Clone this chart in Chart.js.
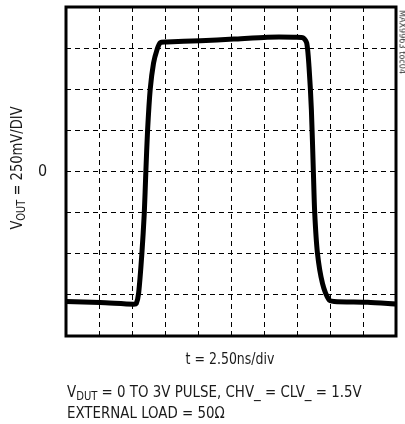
<!DOCTYPE html>
<html>
<head>
<meta charset="utf-8">
<script src="https://cdn.jsdelivr.net/npm/chart.js@4"></script>
<style>
  html, body { margin: 0; padding: 0; background: #fff; }
  #wrap { position: relative; width: 405px; height: 424px; }
  #scope { position: absolute; left: 0; top: 0; }
  .txt {
    position: absolute; color: #1a1a1a; white-space: nowrap;
    font-family: "Liberation Sans Narrow", "Arial Narrow", "DejaVu Sans Condensed", sans-serif;
    font-size: 16px; line-height: 1;
  }
  .txt sub { font-size: 12px; vertical-align: -3px; }
  #ytitle { left: 18px; top: 168px; transform: translate(-50%, -50%) rotate(-90deg) scaleX(0.91); }
  #zero { left: 38px; top: 163px; }
  #xtitle { left: 230px; top: 351px; transform: translateX(-50%) scaleX(0.87); }
  #cap1 { left: 67px; top: 384px; transform-origin: 0 0; transform: scaleX(0.93); }
  #cap2 { left: 67px; top: 405px; transform-origin: 0 0; transform: scaleX(0.93); }
  #tag { left: 402px; top: 10px; font-size: 9px; transform-origin: 0 0; transform: rotate(90deg) translateY(-50%); color: #333; }
</style>
</head>
<body>
<div id="wrap">
  <canvas id="scope" width="405" height="424"></canvas>
  <div class="txt" id="ytitle">V<sub>OUT</sub> = 250mV/DIV</div>
  <div class="txt" id="zero">0</div>
  <div class="txt" id="xtitle">t = 2.50ns/div</div>
  <div class="txt" id="cap1">V<sub>DUT</sub> = 0 TO 3V PULSE, CHV_ = CLV_ = 1.5V</div>
  <div class="txt" id="cap2">EXTERNAL LOAD = 50&Omega;</div>
  <div class="txt" id="tag">MAX9963 toc04</div>
</div>
<script>
/* pulse response, time in ns, output in mV */
const timeNs = [0, 2.58, 5.12, 5.32, 5.5, 5.75, 5.93, 6.05, 6.18, 6.38, 6.63, 6.89, 7.14, 7.65,
                10.18, 12.71, 15.25, 17.27, 17.98, 18.24, 18.41, 18.59, 18.74, 18.84, 19.05,
                19.43, 19.93, 20.31, 22.85, 25];
const voutMv = [-791, -797, -807, -803, -741, -497, -254, 1, 250, 500, 658, 739, 783, 787,
                795, 805, 816, 816, 812, 779, 637, 374, 0, -248, -497,
                -680, -781, -790, -795, -805];
const xRange = [0, 25];       // 10 div x 2.5ns
const yRange = [-1000, 1000]; // 8 div x 250mV
const xStep = 2.5;
const yStep = 250;

const framePlugin = {
    id: 'frame',
    afterDraw(chart) {
        const { ctx, chartArea: a } = chart;
        ctx.save();
        ctx.strokeStyle = '#000';
        ctx.lineWidth = 3;
        ctx.strokeRect(a.left, a.top, a.right - a.left, a.bottom - a.top);
        ctx.restore();
    }
};

const ctx = document.getElementById('scope').getContext('2d');
new Chart(ctx, {
    type: 'line',
    data: {
        datasets: [{
            data: timeNs.map((t, i) => ({ x: t, y: voutMv[i] })),
            borderColor: '#000',
            borderWidth: 5,
            pointRadius: 0,
            tension: 0.25,
            borderJoinStyle: 'round',
            borderCapStyle: 'round',
            fill: false
        }]
    },
    options: {
        responsive: false,
        animation: false,
        layout: { padding: { left: 66, top: 7, right: 9, bottom: 88 } },
        plugins: { legend: { display: false }, tooltip: { enabled: false } },
        scales: {
            x: {
                type: 'linear',
                min: xRange[0], max: xRange[1],
                ticks: { display: false, stepSize: xStep },
                grid: { color: '#000', lineWidth: 1, drawTicks: false },
                border: { display: false, dash: [5, 4] }
            },
            y: {
                min: yRange[0], max: yRange[1],
                ticks: { display: false, stepSize: yStep },
                grid: { color: '#000', lineWidth: 1, drawTicks: false },
                border: { display: false, dash: [5, 4] }
            }
        }
    },
    plugins: [framePlugin]
});
</script>
</body>
</html>
